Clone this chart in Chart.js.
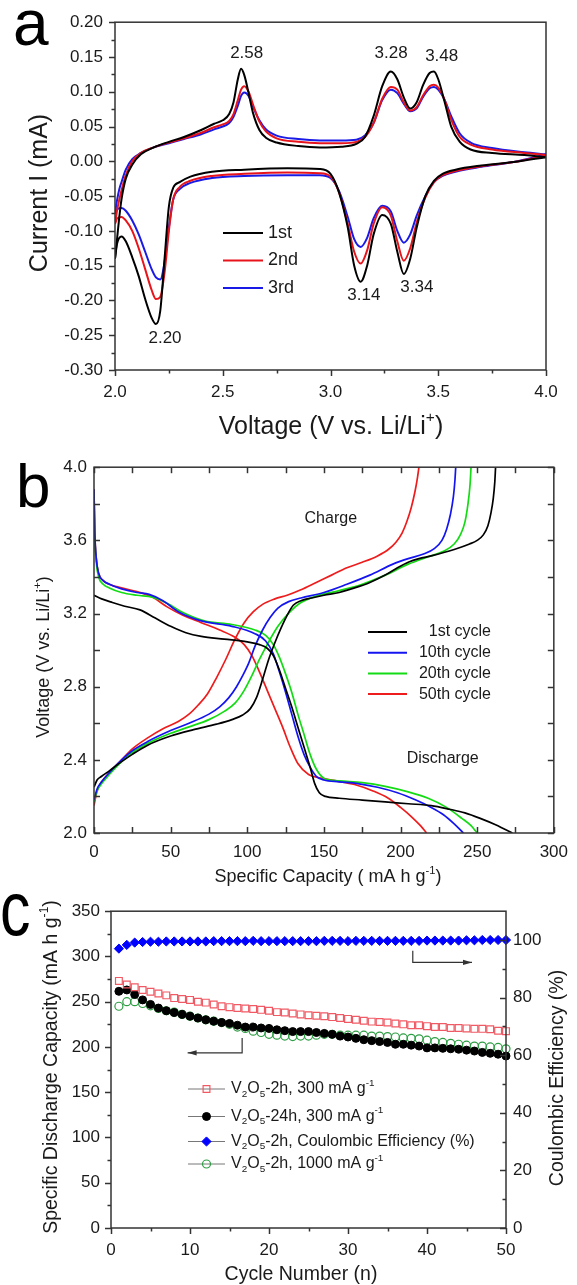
<!DOCTYPE html>
<html><head><meta charset="utf-8">
<script src="https://cdn.jsdelivr.net/npm/chart.js@4.4.1/dist/chart.umd.min.js"></script>
<style>
html,body{margin:0;padding:0;background:#fff;}
#wrap{position:relative;width:577px;height:1285px;overflow:hidden;background:#fff;}
canvas{position:absolute;left:0;}
</style></head><body>
<div id="wrap">
<canvas id="ca" style="top:0px;width:577px;height:450px" width="577" height="450"></canvas>
<canvas id="cb" style="top:450px;width:577px;height:440px" width="577" height="440"></canvas>
<canvas id="cc" style="top:890px;width:577px;height:395px" width="577" height="395"></canvas>
</div>
<script>
// ---------------- Panel a: cyclic voltammetry ----------------
const cvVoltUp = [2.0,2.01,2.02,2.03,2.05,2.08,2.12,2.18,2.25,2.32,2.4,2.46,2.5,2.53,2.55,2.57,2.585,2.6,2.62,2.64,2.67,2.7,2.75,2.85,2.95,3.05,3.12,3.16,3.2,3.24,3.28,3.31,3.34,3.37,3.4,3.43,3.46,3.48,3.5,3.53,3.56,3.6,3.65,3.75,3.9,4.0];
const cv1stUp = [-0.14,-0.11,-0.08,-0.055,-0.025,-0.005,0.010,0.020,0.028,0.035,0.045,0.054,0.059,0.068,0.085,0.118,0.133,0.124,0.098,0.070,0.045,0.034,0.027,0.022,0.020,0.021,0.025,0.035,0.065,0.108,0.129,0.118,0.092,0.076,0.085,0.110,0.127,0.129,0.118,0.085,0.050,0.028,0.017,0.012,0.009,0.006];
const cv2ndUp = [-0.09,-0.07,-0.055,-0.042,-0.02,0.0,0.012,0.020,0.027,0.033,0.041,0.049,0.053,0.058,0.068,0.088,0.103,0.108,0.100,0.082,0.057,0.043,0.033,0.028,0.026,0.026,0.028,0.035,0.055,0.090,0.107,0.103,0.085,0.073,0.078,0.095,0.108,0.110,0.106,0.088,0.060,0.035,0.024,0.017,0.012,0.009];
const cv3rdUp = [-0.075,-0.055,-0.040,-0.030,-0.012,0.003,0.012,0.020,0.026,0.032,0.039,0.046,0.050,0.055,0.064,0.080,0.094,0.099,0.094,0.079,0.059,0.046,0.037,0.032,0.030,0.030,0.031,0.037,0.055,0.088,0.103,0.098,0.083,0.072,0.076,0.093,0.105,0.107,0.103,0.088,0.065,0.040,0.027,0.019,0.013,0.010];
const cvVoltDown = [2.0,2.01,2.03,2.05,2.08,2.11,2.14,2.17,2.19,2.21,2.23,2.25,2.27,2.3,2.35,2.45,2.6,2.8,2.95,3.0,3.04,3.08,3.11,3.14,3.17,3.2,3.24,3.28,3.31,3.34,3.37,3.4,3.44,3.48,3.52,3.58,3.7,3.85,4.0];
const cv1stDown = [-0.14,-0.118,-0.108,-0.115,-0.138,-0.165,-0.198,-0.225,-0.234,-0.215,-0.14,-0.065,-0.038,-0.030,-0.022,-0.015,-0.012,-0.010,-0.011,-0.018,-0.045,-0.095,-0.150,-0.173,-0.150,-0.105,-0.077,-0.090,-0.13,-0.162,-0.14,-0.095,-0.050,-0.028,-0.018,-0.012,-0.006,-0.001,0.006];
const cv2ndDown = [-0.09,-0.082,-0.080,-0.085,-0.100,-0.125,-0.155,-0.185,-0.198,-0.195,-0.16,-0.10,-0.055,-0.037,-0.028,-0.021,-0.018,-0.016,-0.017,-0.022,-0.045,-0.090,-0.13,-0.147,-0.128,-0.090,-0.066,-0.078,-0.115,-0.143,-0.125,-0.088,-0.052,-0.030,-0.020,-0.014,-0.007,-0.001,0.008];
const cv3rdDown = [-0.075,-0.069,-0.067,-0.071,-0.085,-0.105,-0.130,-0.155,-0.167,-0.170,-0.145,-0.095,-0.055,-0.040,-0.031,-0.024,-0.021,-0.020,-0.020,-0.024,-0.043,-0.080,-0.112,-0.123,-0.110,-0.082,-0.064,-0.072,-0.100,-0.117,-0.105,-0.078,-0.050,-0.030,-0.021,-0.015,-0.008,-0.001,0.010];
const cvCycles = ['1st','2nd','3rd'];
const cvPeakLabels = ['2.58','3.28','3.48','3.14','3.34','2.20'];
const cvPeakLabelX = [2.611,3.281,3.516,3.155,3.401,2.232];
const cvPeakLabelY = [0.155,0.155,0.151,-0.1925,-0.181,-0.254];

// ---------------- Panel b: charge / discharge profiles ----------------
const gcCycles = ['1st cycle','10th cycle','20th cycle','50th cycle'];
const cap1Charge = [0,2,5,10,18,25,35,50,65,80,90,97,102,106,110,114,118,122,126,130,135,142,150,160,170,180,190,198,205,212,220,235,245,250,254,257,259,260.5,261.5,262];
const volt1Charge = [2.25,2.29,2.31,2.34,2.39,2.43,2.48,2.53,2.565,2.595,2.62,2.645,2.68,2.74,2.84,2.95,3.04,3.12,3.19,3.245,3.27,3.285,3.30,3.315,3.34,3.37,3.41,3.45,3.48,3.50,3.515,3.55,3.58,3.60,3.63,3.68,3.75,3.83,3.92,4.0];
const cap10Charge = [0,2,5,10,18,25,35,50,62,75,82,88,93,97,101,105,110,115,120,127,135,150,165,180,195,205,215,222,227,230,232.5,234.5,235.5,236];
const volt10Charge = [2.18,2.24,2.28,2.33,2.40,2.45,2.50,2.56,2.60,2.65,2.69,2.74,2.80,2.86,2.93,3.02,3.11,3.18,3.23,3.265,3.285,3.315,3.36,3.41,3.47,3.50,3.525,3.555,3.60,3.66,3.74,3.84,3.93,4.0];
const cap20Charge = [0,2,5,10,18,25,35,50,62,75,85,92,98,103,108,113,120,128,135,145,160,175,190,205,218,228,235,239,242,244,245.3,246];
const volt20Charge = [2.17,2.23,2.27,2.32,2.39,2.44,2.49,2.545,2.58,2.62,2.665,2.71,2.78,2.86,2.95,3.03,3.13,3.21,3.26,3.295,3.325,3.36,3.41,3.47,3.51,3.54,3.58,3.63,3.70,3.80,3.90,4.0];
const cap50Charge = [0,2,5,10,18,25,35,45,55,62,68,74,80,86,92,98,104,110,118,126,135,145,155,165,175,185,192,197,201,204,207,209.5,211,212];
const volt50Charge = [2.15,2.23,2.28,2.33,2.40,2.46,2.52,2.57,2.61,2.65,2.70,2.76,2.85,2.95,3.06,3.15,3.21,3.25,3.28,3.30,3.33,3.37,3.41,3.45,3.48,3.515,3.55,3.59,3.64,3.70,3.78,3.87,3.94,4.0];
const cap1Discharge = [0,5,12,20,30,40,50,60,70,85,100,108,113,117,121,125,129,133,137,141,144,147,151,160,175,190,205,220,232,242,252,262,268,273];
const volt1Discharge = [3.30,3.28,3.26,3.24,3.22,3.175,3.13,3.095,3.075,3.06,3.045,3.03,3.01,2.97,2.89,2.79,2.69,2.58,2.47,2.36,2.27,2.22,2.20,2.19,2.18,2.17,2.16,2.15,2.13,2.11,2.08,2.045,2.02,2.0];
const cap10Discharge = [0,0.5,1.5,3,6,10,18,28,36,45,55,70,90,105,112,117,121,125,129,133,137,141,145,150,160,172,185,198,210,220,228,235,241];
const volt10Discharge = [3.88,3.65,3.50,3.42,3.38,3.36,3.335,3.315,3.305,3.27,3.21,3.16,3.13,3.09,3.05,2.98,2.88,2.77,2.65,2.53,2.43,2.36,2.31,2.29,2.28,2.27,2.25,2.22,2.18,2.14,2.10,2.05,2.0];
const cap20Discharge = [0,0.5,1.5,3,6,10,18,28,38,48,58,72,90,105,112,117,121,125,129,133,137,141,145,150,160,175,190,205,218,230,240,246,250];
const volt20Discharge = [3.86,3.63,3.48,3.40,3.36,3.34,3.315,3.30,3.29,3.255,3.205,3.16,3.14,3.11,3.08,3.03,2.96,2.87,2.77,2.65,2.54,2.43,2.35,2.30,2.285,2.275,2.255,2.225,2.19,2.14,2.08,2.04,2.0];
const cap50Discharge = [0,0.5,1.5,3,6,10,18,28,38,48,58,70,82,92,98,103,108,113,118,123,128,133,140,148,158,170,182,192,200,207,213,217];
const volt50Discharge = [3.88,3.65,3.50,3.42,3.38,3.36,3.34,3.32,3.29,3.235,3.19,3.15,3.11,3.07,3.03,2.97,2.88,2.78,2.68,2.58,2.47,2.38,2.32,2.30,2.285,2.265,2.23,2.19,2.14,2.09,2.04,2.0];

// ---------------- Panel c: cycling ----------------
const cycleNumbers = Array.from({length:50},(_,i)=>i+1);
const cap2h300 = [273,269,266,263,261,259,257,254,253,252,250,249,247,245,244,243,242.5,242,241,240,238.5,238,237,236,235,234.5,234,233,232,231,230,229,228,227.5,227,226,225,224,224,223,222,222,221,221,220.5,220,220,219.5,218,217.5];
const cap24h300 = [261.5,263,258,252,247,243,240,238,236,234,232,230,228.5,227,226,224,222,222,221,220.5,219,218,217,217,217,216,215,214,212,211,209.5,208,207,206,205,203,203,202,201,199,199,198.5,198,197.5,196.5,195.5,194,193,192,190];
const cap2h1000 = [245,250,250,248,245.5,242.5,240,238.5,236,234,232,230,228.5,227,225,222,220.5,217.5,216,214,213,212,211.5,212,212,213,214,214,213,213,213,213,212,212,211.5,211,210,209.5,209,207.5,206,205,204,203,202,201,201,200,199.5,198];
const coulombicEff = [97,98.3,99.1,99.3,99.4,99.4,99.5,99.5,99.5,99.5,99.5,99.5,99.6,99.6,99.6,99.6,99.6,99.7,99.6,99.6,99.6,99.6,99.6,99.6,99.6,99.6,99.7,99.7,99.7,99.6,99.7,99.7,99.7,99.7,99.7,99.7,99.7,99.7,99.7,99.8,99.8,99.8,99.8,99.8,99.9,99.9,100,100,100,100];

// ---------------- helpers ----------------
const FAM = "'Liberation Sans', Arial, Helvetica, sans-serif";
Chart.defaults.font.family = FAM;
Chart.defaults.color = '#1a1a1a';
const pts = (xs, ys) => xs.map((x, i) => ({x, y: ys[i]}));

function drawRich(ctx, segs, x, y, size, o) {
  o = o || {};
  const parts = segs.map(s => {
    const t = Array.isArray(s) ? s[0] : s, k = Array.isArray(s) ? s[1] : null;
    const fs = k ? size * 0.62 : size;
    ctx.font = fs + 'px ' + FAM;
    return {t, k, fs, w: ctx.measureText(t).width};
  });
  const total = parts.reduce((s, p) => s + p.w, 0);
  ctx.save();
  ctx.translate(x, y);
  if (o.rotate) ctx.rotate(o.rotate);
  let cx = o.align === 'center' ? -total / 2 : (o.align === 'right' ? -total : 0);
  ctx.fillStyle = o.color || '#1a1a1a';
  ctx.textBaseline = 'middle';
  ctx.textAlign = 'left';
  for (const p of parts) {
    ctx.font = p.fs + 'px ' + FAM;
    const dy = p.k === 'sub' ? size * 0.3 : (p.k === 'sup' ? -size * 0.36 : 0);
    ctx.fillText(p.t, cx, dy);
    cx += p.w;
  }
  ctx.restore();
}

// frame + inward/outward tick marks drawn from the chart's own scales
const frameTicks = {
  id: 'frameTicks',
  afterDatasetsDraw(chart, args, opts) {
    const ctx = chart.ctx, a = chart.chartArea;
    ctx.save();
    ctx.strokeStyle = opts.color || '#333';
    ctx.lineWidth = opts.lineWidth || 1.4;
    ctx.strokeRect(a.left, a.top, a.right - a.left, a.bottom - a.top);
    for (const t of (opts.ticks || [])) {
      const sc = chart.scales[t.scale];
      const n = Math.round((t.max - t.min) / t.minor);
      for (let i = 0; i <= n; i++) {
        const v = t.min + i * t.minor;
        const r = v / t.major;
        const isMajor = Math.abs(r - Math.round(r)) < 1e-6;
        const len = isMajor ? t.majorLen : t.minorLen;
        const p = Math.round(sc.getPixelForValue(v)) + 0.5;
        const s = t.dir === 'in' ? 1 : -1;
        ctx.beginPath();
        if (t.edge === 'left') { ctx.moveTo(a.left, p); ctx.lineTo(a.left + s * len, p); }
        else if (t.edge === 'right') { ctx.moveTo(a.right, p); ctx.lineTo(a.right - s * len, p); }
        else if (t.edge === 'bottom') { ctx.moveTo(p, a.bottom); ctx.lineTo(p, a.bottom - s * len); }
        else { ctx.moveTo(p, a.top); ctx.lineTo(p, a.top + s * len); }
        ctx.stroke();
      }
    }
    ctx.restore();
  }
};

// text notes: data-anchored or pixel-anchored, rich segments allowed
const notes = {
  id: 'notes',
  afterDraw(chart, args, opts) {
    const ctx = chart.ctx;
    for (const n of (opts.items || [])) {
      const x = n.xs ? chart.scales[n.xs].getPixelForValue(n.x) : n.x;
      const y = n.ys ? chart.scales[n.ys].getPixelForValue(n.y) : n.y;
      if (n.letter) {
        ctx.save();
        ctx.translate(x, y);
        ctx.scale(n.sx || 1, 1);
        ctx.font = n.size + 'px ' + FAM;
        ctx.fillStyle = '#000';
        ctx.textBaseline = 'alphabetic';
        ctx.textAlign = 'left';
        ctx.fillText(n.letter, 0, 0);
        ctx.restore();
      } else {
        drawRich(ctx, n.segs, x, y, n.size, {align: n.align || 'center', rotate: n.rotate});
      }
    }
  }
};

// custom legends (line / marker samples)
function drawMarker(ctx, style, x, y, r, stroke, fill, bw) {
  ctx.save();
  ctx.lineWidth = bw; ctx.strokeStyle = stroke; ctx.fillStyle = fill;
  ctx.beginPath();
  if (style === 'rect') { const s = r * Math.SQRT1_2; ctx.rect(x - s, y - s, 2 * s, 2 * s); }
  else if (style === 'rectRot') { ctx.moveTo(x, y - r); ctx.lineTo(x + r, y); ctx.lineTo(x, y + r); ctx.lineTo(x - r, y); ctx.closePath(); }
  else { ctx.arc(x, y, r, 0, Math.PI * 2); }
  if (fill !== 'transparent') ctx.fill();
  ctx.stroke();
  ctx.restore();
}
const keyBox = {
  id: 'keyBox',
  afterDraw(chart, args, opts) {
    const ctx = chart.ctx;
    (opts.rows || []).forEach(r => {
      ctx.save();
      ctx.strokeStyle = r.lineColor; ctx.lineWidth = r.lineWidth;
      ctx.beginPath(); ctx.moveTo(r.x0, r.y); ctx.lineTo(r.x1, r.y); ctx.stroke();
      ctx.restore();
      if (r.marker) drawMarker(ctx, r.marker, (r.x0 + r.x1) / 2, r.y, r.mr, r.mStroke, r.mFill, r.mbw);
      drawRich(ctx, r.segs, r.tx, r.y, r.size, {align: r.align || 'left'});
    });
  }
};

// arrows in data space
const arrows = {
  id: 'arrows',
  afterDraw(chart, args, opts) {
    const ctx = chart.ctx;
    for (const a of (opts.items || [])) {
      const xs = chart.scales[a.xs], ys = chart.scales[a.ys];
      const P = a.path.map(p => [xs.getPixelForValue(p[0]), ys.getPixelForValue(p[1])]);
      ctx.save();
      ctx.strokeStyle = '#333'; ctx.fillStyle = '#333'; ctx.lineWidth = 1.2;
      ctx.beginPath(); ctx.moveTo(P[0][0], P[0][1]);
      for (let i = 1; i < P.length; i++) ctx.lineTo(P[i][0], P[i][1]);
      ctx.stroke();
      const [x1, y1] = P[P.length - 1], [x0, y0] = P[P.length - 2];
      const ang = Math.atan2(y1 - y0, x1 - x0);
      ctx.translate(x1, y1); ctx.rotate(ang);
      ctx.beginPath(); ctx.moveTo(0, 0); ctx.lineTo(-9, -2.6); ctx.lineTo(-9, 2.6); ctx.closePath(); ctx.fill();
      ctx.restore();
    }
  }
};

const common = {responsive: false, animation: false, devicePixelRatio: 1,
  events: []};
const noGrid = {display: false, drawTicks: false};

// ================= Chart a =================
const cvColors = ['#000000', '#e8141b', '#1a1ae6'];
const cvUp = [cv1stUp, cv2ndUp, cv3rdUp], cvDown = [cv1stDown, cv2ndDown, cv3rdDown];
const dsA = [];
cvCycles.forEach((c, i) => {
  dsA.push({label: c, data: pts(cvVoltUp, cvUp[i]), borderColor: cvColors[i], borderWidth: 2, showLine: true, pointRadius: 0, cubicInterpolationMode: 'monotone'});
  dsA.push({label: c + ' (cathodic)', data: pts(cvVoltDown, cvDown[i]), borderColor: cvColors[i], borderWidth: 2, showLine: true, pointRadius: 0, cubicInterpolationMode: 'monotone'});
});
new Chart(document.getElementById('ca'), {
  type: 'scatter',
  data: {datasets: dsA},
  options: Object.assign({}, common, {
    layout: {padding: {left: 0, right: 31, top: 22, bottom: 0}},
    scales: {
      x: {type: 'linear', min: 2, max: 4, afterFit: s => { s.height = 80; },
          grid: noGrid, border: {display: false},
          ticks: {stepSize: 0.5, padding: 12, font: {size: 17}, color: '#1a1a1a', callback: v => v.toFixed(1)}},
      y: {type: 'linear', min: -0.3, max: 0.2, afterFit: s => { s.width = 115; },
          grid: noGrid, border: {display: false},
          ticks: {stepSize: 0.05, padding: 12, font: {size: 17}, color: '#1a1a1a', includeBounds: false,
                  callback: v => (Math.abs(v) < 1e-9 ? 0 : v).toFixed(2)}}
    },
    plugins: {
      legend: {display: false}, tooltip: {enabled: false},
      frameTicks: {color: '#333', lineWidth: 1.5, ticks: [
        {scale: 'y', edge: 'left', min: -0.3, max: 0.2, major: 0.05, minor: 0.025, dir: 'out', majorLen: 6, minorLen: 3.5},
        {scale: 'x', edge: 'bottom', min: 2, max: 4, major: 0.5, minor: 0.25, dir: 'out', majorLen: 6, minorLen: 3.5}
      ]},
      notes: {items: cvPeakLabels.map((t, i) => ({segs: [t], x: cvPeakLabelX[i], y: cvPeakLabelY[i], xs: 'x', ys: 'y', size: 17}))
        .concat([
          {segs: ['Current I (mA)'], x: 40.5, y: 193, size: 25, rotate: -Math.PI / 2},
          {segs: ['Voltage (V vs. Li/Li', ['+', 'sup'], ')'], x: 331, y: 427, size: 25},
          {letter: 'a', x: 13, y: 45, size: 64}
        ])},
      keyBox: {rows: cvCycles.map((c, i) => ({x0: 223, x1: 263, y: 233 + i * 27.5, lineColor: cvColors[i], lineWidth: 2.2, segs: [c], tx: 268, size: 18}))}
    }
  }),
  plugins: [frameTicks, notes, keyBox]
});

// ================= Chart b =================
const gcColors = ['#000000', '#1414f0', '#14dc14', '#ee1c1c'];
const chargeCap = [cap1Charge, cap10Charge, cap20Charge, cap50Charge];
const chargeVolt = [volt1Charge, volt10Charge, volt20Charge, volt50Charge];
const dischCap = [cap1Discharge, cap10Discharge, cap20Discharge, cap50Discharge];
const dischVolt = [volt1Discharge, volt10Discharge, volt20Discharge, volt50Discharge];
const dsB = [];
gcCycles.forEach((c, i) => {
  dsB.push({label: c + ' charge', data: pts(chargeCap[i], chargeVolt[i]), borderColor: gcColors[i], borderWidth: 1.7, showLine: true, pointRadius: 0, cubicInterpolationMode: 'monotone'});
  dsB.push({label: c + ' discharge', data: pts(dischCap[i], dischVolt[i]), borderColor: gcColors[i], borderWidth: 1.7, showLine: true, pointRadius: 0, cubicInterpolationMode: 'monotone'});
});
new Chart(document.getElementById('cb'), {
  type: 'scatter',
  data: {datasets: dsB},
  options: Object.assign({}, common, {
    layout: {padding: {left: 0, right: 15, top: 13, bottom: 0}},
    scales: {
      x: {type: 'linear', min: 0, max: 300, afterFit: s => { s.height = 57; },
          grid: noGrid, border: {display: false},
          ticks: {stepSize: 50, padding: 9, font: {size: 17}, color: '#1a1a1a'}},
      y: {type: 'linear', min: 2, max: 4, afterFit: s => { s.width = 94; },
          grid: noGrid, border: {display: false},
          ticks: {stepSize: 0.4, padding: 7, font: {size: 17}, color: '#1a1a1a', callback: v => v.toFixed(1)}}
    },
    plugins: {
      legend: {display: false}, tooltip: {enabled: false},
      frameTicks: {color: '#333', lineWidth: 1.5, ticks: [
        {scale: 'y', edge: 'left', min: 2, max: 4, major: 0.4, minor: 0.2, dir: 'in', majorLen: 6, minorLen: 6},
        {scale: 'y', edge: 'right', min: 2, max: 4, major: 0.4, minor: 0.2, dir: 'in', majorLen: 6, minorLen: 6},
        {scale: 'x', edge: 'bottom', min: 0, max: 300, major: 50, minor: 25, dir: 'in', majorLen: 6, minorLen: 6},
        {scale: 'x', edge: 'top', min: 0, max: 300, major: 50, minor: 25, dir: 'in', majorLen: 6, minorLen: 6}
      ]},
      notes: {items: [
        {segs: ['Charge'], x: 154.5, y: 3.72, xs: 'x', ys: 'y', size: 16},
        {segs: ['Discharge'], x: 227.5, y: 2.405, xs: 'x', ys: 'y', size: 16},
        {segs: ['Voltage (V vs. Li/Li', ['+', 'sup'], ')'], x: 44, y: 207, size: 18, rotate: -Math.PI / 2},
        {segs: ['Specific Capacity ( mA h g', ['-1', 'sup'], ')'], x: 328, y: 427, size: 18},
        {letter: 'b', x: 16, y: 57, size: 62}
      ]},
      keyBox: {rows: gcCycles.map((c, i) => ({x0: 368, x1: 407, y: 182 + i * 20.7, lineColor: gcColors[i], lineWidth: 2, segs: [c], tx: 491, align: 'right', size: 16}))}
    }
  }),
  plugins: [frameTicks, notes, keyBox]
});

// ================= Chart c =================
const cLabels = [
  ['V', ['2', 'sub'], 'O', ['5', 'sub'], '-2h, 300 mA g', ['-1', 'sup']],
  ['V', ['2', 'sub'], 'O', ['5', 'sub'], '-24h, 300 mA g', ['-1', 'sup']],
  ['V', ['2', 'sub'], 'O', ['5', 'sub'], '-2h, Coulombic Efficiency (%)'],
  ['V', ['2', 'sub'], 'O', ['5', 'sub'], '-2h, 1000 mA g', ['-1', 'sup']]
];
const cStyle = [
  {marker: 'rect', mr: 4.8, mStroke: '#ef5a64', mFill: 'transparent', mbw: 1.2},
  {marker: 'circle', mr: 4.0, mStroke: '#000', mFill: '#000', mbw: 1},
  {marker: 'rectRot', mr: 4.6, mStroke: '#0000ff', mFill: '#0000ff', mbw: 1},
  {marker: 'circle', mr: 4.0, mStroke: '#2e9e44', mFill: 'transparent', mbw: 1.2}
];
new Chart(document.getElementById('cc'), {
  type: 'scatter',
  data: {datasets: [
    {label: 'V2O5-2h, 300 mA/g', data: pts(cycleNumbers, cap2h300), pointStyle: 'rect', pointRadius: 4.8, borderColor: '#ef5a64', backgroundColor: 'rgba(255,255,255,0)', borderWidth: 1.2, clip: false},
    {label: 'V2O5-24h, 300 mA/g', data: pts(cycleNumbers, cap24h300), pointStyle: 'circle', pointRadius: 4.0, borderColor: '#000', backgroundColor: '#000', borderWidth: 1, clip: false},
    {label: 'V2O5-2h, 1000 mA/g', data: pts(cycleNumbers, cap2h1000), pointStyle: 'circle', pointRadius: 4.0, borderColor: '#2e9e44', backgroundColor: 'rgba(255,255,255,0)', borderWidth: 1.2, clip: false},
    {label: 'Coulombic Efficiency', data: pts(cycleNumbers, coulombicEff), yAxisID: 'y2', pointStyle: 'rectRot', pointRadius: 4.6, borderColor: '#0000ff', backgroundColor: '#0000ff', borderWidth: 1, clip: false}
  ]},
  options: Object.assign({}, common, {
    layout: {padding: {left: 0, right: 0, top: 19, bottom: 0}},
    scales: {
      x: {type: 'linear', min: 0, max: 50, afterFit: s => { s.height = 57; },
          grid: noGrid, border: {display: false},
          ticks: {stepSize: 10, padding: 12, font: {size: 17}, color: '#1a1a1a'}},
      y: {type: 'linear', position: 'left', min: 0, max: 350, afterFit: s => { s.width = 111; },
          grid: noGrid, border: {display: false},
          ticks: {stepSize: 50, padding: 11, font: {size: 17}, color: '#1a1a1a'}},
      y2: {type: 'linear', position: 'right', min: 0, max: 110, afterFit: s => { s.width = 71; },
          grid: noGrid, border: {display: false},
          ticks: {stepSize: 20, padding: 7, font: {size: 17}, color: '#1a1a1a', includeBounds: false,
                  callback: v => (v > 100 ? '' : v)}}
    },
    plugins: {
      legend: {display: false}, tooltip: {enabled: false},
      frameTicks: {color: '#333', lineWidth: 1.5, ticks: [
        {scale: 'y', edge: 'left', min: 0, max: 350, major: 50, minor: 25, dir: 'out', majorLen: 6, minorLen: 3.5},
        {scale: 'x', edge: 'bottom', min: 0, max: 50, major: 10, minor: 5, dir: 'out', majorLen: 6, minorLen: 3.5},
        {scale: 'y2', edge: 'right', min: 0, max: 100, major: 20, minor: 10, dir: 'in', majorLen: 6, minorLen: 3.5}
      ]},
      notes: {items: [
        {segs: ['Specific Discharge Capacity (mA h g', ['-1', 'sup'], ')'], x: 51.5, y: 177, size: 19.5, rotate: -Math.PI / 2},
        {segs: ['Coulombic Efficiency (%)'], x: 557.5, y: 188, size: 19.5, rotate: -Math.PI / 2},
        {segs: ['Cycle Number (n)'], x: 301, y: 385, size: 19.5},
        {letter: 'c', x: 0, y: 45, size: 76, sx: 0.8}
      ]},
      keyBox: {rows: cLabels.map((segs, i) => Object.assign({x0: 188, x1: 225, y: [199, 226.5, 251.5, 274][i], lineColor: '#777', lineWidth: 1, segs, tx: 231, size: 16}, cStyle[i]))},
      arrows: {items: [
        {xs: 'x', ys: 'y', path: [[16.6, 210], [16.6, 193.5], [9.7, 193.5]]},
        {xs: 'x', ys: 'y2', path: [[38.2, 96.3], [38.2, 92.2], [45.7, 92.2]]}
      ]}
    }
  }),
  plugins: [frameTicks, notes, keyBox, arrows]
});
</script>
</body></html>
